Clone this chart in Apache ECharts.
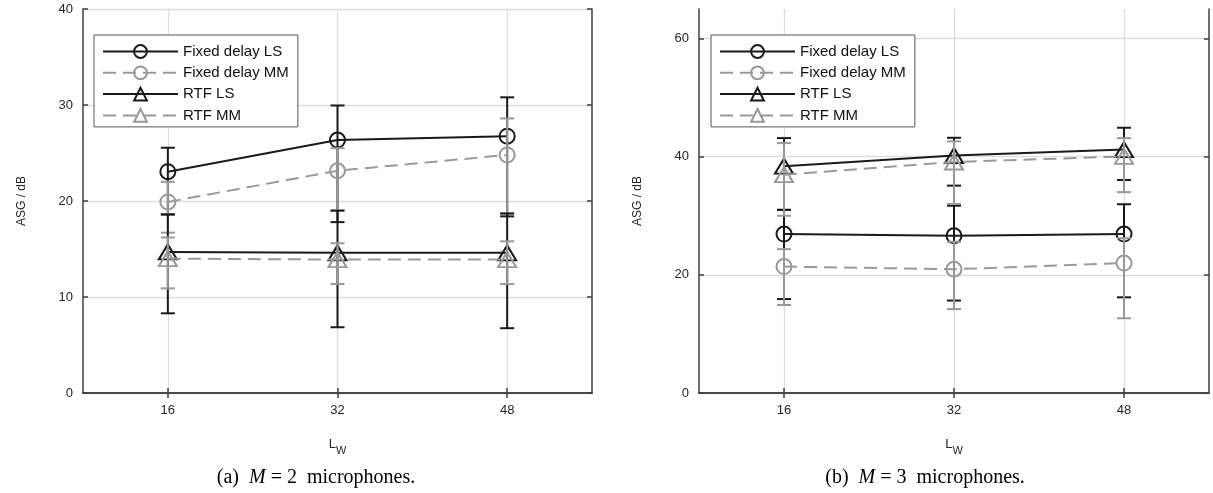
<!DOCTYPE html>
<html><head><meta charset="utf-8">
<script src="https://cdn.jsdelivr.net/npm/echarts@6/dist/echarts.min.js"></script>
<style>html,body{margin:0;padding:0;background:#fff}#c{width:1213px;height:493px}</style>
</head><body><div id="c"></div>
<script>
// ---- data ----
const xTicks = [16, 32, 48];
const seriesNames = ['Fixed delay LS', 'Fixed delay MM', 'RTF LS', 'RTF MM'];
const yTicksM2 = [0, 10, 20, 30, 40];
const yTicksM3 = [0, 20, 40, 60];

// (a) M = 2
const m2FdLS    = [23.05, 26.35, 26.75];
const m2FdLSLo  = [18.6, 17.8, 18.4];
const m2FdLSHi  = [25.55, 29.95, 30.8];
const m2FdMM    = [19.9, 23.15, 24.8];
const m2FdMMLo  = [16.7, 19.0, 18.7];
const m2FdMMHi  = [22.0, 25.5, 28.6];
const m2RtfLS   = [14.7, 14.6, 14.6];
const m2RtfLSLo = [8.3, 6.85, 6.75];
const m2RtfLSHi = [18.6, 19.0, 18.7];
const m2RtfMM   = [14.0, 13.9, 13.9];
const m2RtfMMLo = [10.9, 11.35, 11.35];
const m2RtfMMHi = [16.2, 15.6, 15.8];

// (b) M = 3
const m3FdLS    = [26.9, 26.6, 26.9];
const m3FdLSLo  = [15.9, 15.65, 16.2];
const m3FdLSHi  = [31.0, 31.7, 31.95];
const m3FdMM    = [21.4, 20.95, 22.0];
const m3FdMMLo  = [14.9, 14.2, 12.65];
const m3FdMMHi  = [24.35, 25.6, 26.2];
const m3RtfLS   = [38.4, 40.2, 41.2];
const m3RtfLSLo = [31.0, 35.1, 36.05];
const m3RtfLSHi = [43.15, 43.2, 44.9];
const m3RtfMM   = [36.95, 39.1, 40.05];
const m3RtfMMLo = [30.0, 32.0, 34.0];
const m3RtfMMHi = [42.3, 42.6, 43.15];

// ---- style ----
const BLACK = '#1a1a1a', GRAY = '#999999';
const AX = '#404040', GRID = '#dedede', TXT = '#262626';
const FONT = '"Liberation Sans", Arial, Helvetica, sans-serif';
const DASH = [13, 7];

function errSeries(axisIdx, lo, hi, color, z) {
  return {
    type: 'custom', xAxisIndex: axisIdx, yAxisIndex: axisIdx, z: z, silent: true,
    data: xTicks.map((v, i) => [v, lo[i], hi[i]]),
    encode: { x: 0, y: [1, 2] },
    renderItem: function (p, api) {
      const xv = api.value(0);
      const a = api.coord([xv, api.value(1)]);
      const b = api.coord([xv, api.value(2)]);
      const w = 7;
      const st = { stroke: color, lineWidth: 2, fill: null };
      return { type: 'group', children: [
        { type: 'line', shape: { x1: a[0], y1: a[1], x2: b[0], y2: b[1] }, style: st },
        { type: 'line', shape: { x1: a[0] - w, y1: a[1], x2: a[0] + w, y2: a[1] }, style: st },
        { type: 'line', shape: { x1: b[0] - w, y1: b[1], x2: b[0] + w, y2: b[1] }, style: st }
      ]};
    }
  };
}
function lineSeries(axisIdx, name, vals, color, dashed, symbol, z) {
  return {
    type: 'line', name: name, xAxisIndex: axisIdx, yAxisIndex: axisIdx, z: z,
    data: xTicks.map((v, i) => [v, vals[i]]),
    symbol: symbol, symbolSize: symbol === 'circle' ? 15 : [18, 15],
    showSymbol: true, silent: true,
    itemStyle: { color: 'rgba(0,0,0,0)', borderColor: color, borderWidth: 2 },
    lineStyle: { color: color, width: 2, type: dashed ? DASH : 'solid' },
    emphasis: { disabled: true }
  };
}
function xAxes(gi) {
  const base = {
    type: 'value', gridIndex: gi, min: 8, max: 56,
    axisLine: { show: true, lineStyle: { color: AX, width: 1.5 } },
    axisTick: { show: true, inside: true, length: 5, customValues: xTicks, lineStyle: { color: AX, width: 1.5 } }
  };
  return [
    Object.assign({}, base, {
      position: 'bottom',
      axisLabel: { customValues: xTicks, margin: 11, fontSize: 13, color: TXT, fontFamily: FONT },
      splitLine: { show: true, lineStyle: { color: GRID, width: 1.3 } },
      name: 'L{s|W}', nameLocation: 'middle', nameGap: 40,
      nameTextStyle: { fontSize: 13, color: TXT, fontFamily: FONT,
        rich: { s: { fontSize: 11, color: TXT, fontFamily: FONT, verticalAlign: 'bottom', padding: [12, 0, 0, 0] } } }
    }),
    Object.assign({}, base, { position: 'top', axisLabel: { show: false }, splitLine: { show: false } })
  ];
}
function yAxes(gi, max, ticks) {
  const base = {
    type: 'value', gridIndex: gi, min: 0, max: max,
    axisLine: { show: true, lineStyle: { color: AX, width: 1.5 } },
    axisTick: { show: true, inside: true, length: 5, customValues: ticks, lineStyle: { color: AX, width: 1.5 } }
  };
  return [
    Object.assign({}, base, {
      position: 'left',
      axisLabel: { customValues: ticks, margin: 10, fontSize: 13, color: TXT, fontFamily: FONT },
      splitLine: { show: true, lineStyle: { color: GRID, width: 1.3 } },
      name: 'ASG / dB', nameLocation: 'middle', nameGap: 55, nameRotate: 90,
      nameTextStyle: { fontSize: 12, color: TXT, fontFamily: FONT }
    }),
    Object.assign({}, base, { position: 'right', axisLabel: { show: false }, splitLine: { show: false } })
  ];
}
function legendAt(left) {
  return {
    data: seriesNames, orient: 'vertical', left: left, top: 35,
    itemWidth: 75, itemHeight: 16, itemGap: 6.3, padding: [9, 9, 4, 8],
    borderColor: '#555', borderWidth: 1, backgroundColor: '#fff', borderRadius: 0,
    selectedMode: false, z: 20,
    textStyle: { fontSize: 15, color: '#111', fontFamily: FONT }
  };
}
function panel(axisIdx, d) {
  return [
    errSeries(axisIdx, d[0][1], d[0][2], BLACK, 2),
    lineSeries(axisIdx, seriesNames[0], d[0][0], BLACK, false, 'circle', 3),
    errSeries(axisIdx, d[1][1], d[1][2], GRAY, 4),
    lineSeries(axisIdx, seriesNames[1], d[1][0], GRAY, true, 'circle', 5),
    errSeries(axisIdx, d[2][1], d[2][2], BLACK, 6),
    lineSeries(axisIdx, seriesNames[2], d[2][0], BLACK, false, 'triangle', 7),
    errSeries(axisIdx, d[3][1], d[3][2], GRAY, 8),
    lineSeries(axisIdx, seriesNames[3], d[3][0], GRAY, true, 'triangle', 9)
  ];
}

const chart = echarts.init(document.getElementById('c'), null, { renderer: 'canvas' });
const series = [].concat(
  panel(0, [[m2FdLS, m2FdLSLo, m2FdLSHi], [m2FdMM, m2FdMMLo, m2FdMMHi], [m2RtfLS, m2RtfLSLo, m2RtfLSHi], [m2RtfMM, m2RtfMMLo, m2RtfMMHi]]),
  panel(2, [[m3FdLS, m3FdLSLo, m3FdLSHi], [m3FdMM, m3FdMMLo, m3FdMMHi], [m3RtfLS, m3RtfLSLo, m3RtfLSHi], [m3RtfMM, m3RtfMMLo, m3RtfMMHi]])
);
const capFont = '20px "Liberation Serif", "Times New Roman", serif';
const capRich = { i: { fontStyle: 'italic', fontSize: 20, fontFamily: '"Liberation Serif", serif', fill: '#000' } };
chart.setOption({
  animation: false,
  backgroundColor: '#fff',
  grid: [
    { left: 83, top: 9, width: 509, height: 384, containLabel: false },
    { left: 699, top: 9, width: 510, height: 384, containLabel: false }
  ],
  xAxis: [].concat(xAxes(0), xAxes(1)),
  yAxis: [].concat(yAxes(0, 40, yTicksM2), yAxes(1, 65, yTicksM3)),
  legend: [legendAt(94), legendAt(711)],
  series: series,
  graphic: [
    { type: 'text', x: 316, y: 478, style: { text: '(a)  {i|M} = 2  microphones.', align: 'center', verticalAlign: 'middle',
      font: capFont, fill: '#000', rich: capRich } },
    { type: 'text', x: 925, y: 478, style: { text: '(b)  {i|M} = 3  microphones.', align: 'center', verticalAlign: 'middle',
      font: capFont, fill: '#000', rich: capRich } }
  ]
});
</script></body></html>
